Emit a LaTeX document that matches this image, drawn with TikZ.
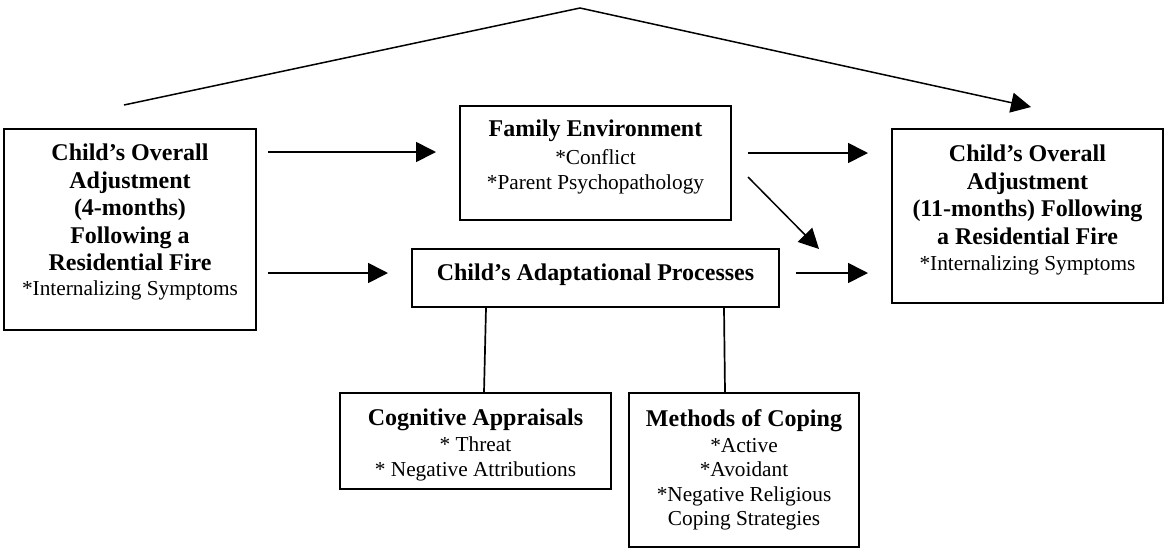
\documentclass[tikz,border=0pt]{standalone}
\usepackage{fontspec}
\setmainfont{Liberation Serif}
\usetikzlibrary{arrows.meta}
\newcommand\regtext[1]{{\mdseries\fontsize{21.3}{24}\selectfont #1}}
\begin{document}
\begin{tikzpicture}[x=1pt,y=-1pt,
  box/.style={draw, line width=1.8pt, inner sep=0pt},
  txt/.style={align=center, inner sep=0pt, anchor=north},
  bigtxt/.style={txt, font=\fontsize{24}{27.5}\selectfont\bfseries},
  smalltxt/.style={txt, font=\fontsize{24}{24.5}\selectfont\bfseries},
  tip/.style={-{Triangle[length=20pt,width=20pt]}},
  arr/.style={line width=1.7pt, tip},
  conn/.style={line width=1.7pt}]
\useasboundingbox (0,0) rectangle (1167,550);

% boxes
\node[box, minimum width=252pt, minimum height=201pt] (L) at (130,229.5) {};
\node[box, minimum width=271pt, minimum height=114pt] (F) at (595.5,163) {};
\node[box, minimum width=367pt, minimum height=58pt] (A) at (595.5,278) {};
\node[box, minimum width=271pt, minimum height=174pt] (R) at (1027.5,216) {};
\node[box, minimum width=271pt, minimum height=96pt] (C) at (475.5,441) {};
\node[box, minimum width=230pt, minimum height=154pt] (M) at (744,470) {};

% texts
\node[bigtxt] (Lt) at (130,144) {Child’s Overall\\Adjustment\\(4-months)\\Following a\\Residential Fire\\[-2.5pt]\regtext{*Internalizing Symptoms}};
\node[bigtxt] (Rt) at (1027.5,145) {Child’s Overall\\Adjustment\\(11-months) Following\\a Residential Fire\\[-1.5pt]\regtext{*Internalizing Symptoms}};
\node[bigtxt] (Ft) at (595.5,120) {Family Environment\\\regtext{*Conflict}\\[-2.5pt]\regtext{*Parent Psychopathology}};
\node[bigtxt] (At) at (595.5,264) {Child’s Adaptational Processes};
\node[smalltxt] (Ct) at (475.5,409) {Cognitive Appraisals\\[1.5pt]\regtext{* Threat}\\\regtext{* Negative Attributions}};
\node[smalltxt] (Mt) at (744,409) {Methods of Coping\\[1.5pt]\regtext{*Active}\\\regtext{*Avoidant}\\\regtext{*Negative Religious}\\\regtext{Coping Strategies}};

% free connector ends
\coordinate (tL) at (124,105);
\coordinate (tP) at (580,8);
\coordinate (tR) at (1031,107);
\coordinate (a1s) at (268,152);
\coordinate (a1e) at (436,152);
\coordinate (a2s) at (268,273);
\coordinate (a2e) at (388,273);
\coordinate (a3s) at (748,153);
\coordinate (a3e) at (868,153);
\coordinate (a4s) at (796,273);
\coordinate (a4e) at (868,273);
\coordinate (d1s) at (748,177);
\coordinate (d1e) at (819,249);

% connectors
\draw[line width=1.5pt, tip] (tL) -- (tP) -- (tR);
\draw[arr] (a1s) -- (a1e);
\draw[arr] (a2s) -- (a2e);
\draw[arr] (a3s) -- (a3e);
\draw[arr] (a4s) -- (a4e);
\draw[line width=1.5pt, tip] (d1s) -- (d1e);
\draw[conn] ([xshift=-109.5pt]A.south) -- ([xshift=8.5pt]C.north);
\draw[conn] ([xshift=128.5pt]A.south) -- ([xshift=-19pt]M.north);
\end{tikzpicture}
\end{document}
